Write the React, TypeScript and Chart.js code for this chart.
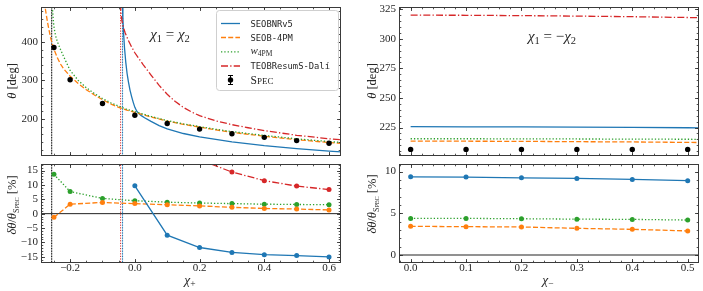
import React, { useEffect, useRef } from "react";
import { Chart, registerables } from "chart.js";
Chart.register(...registerables);

const BLUE = "#1f77b4";
const ORANGE = "#ff7f0e";
const GREEN = "#2ca02c";
const RED = "#d62728";
const INK = "#262626";
const SERIF = '"Liberation Serif", "DejaVu Serif", serif';
const MONO = '"DejaVu Sans Mono", monospace';

// ---------- chi1 = chi2 (chi_+) : theta curves ----------
const seobnrPlusX = [-0.0385, -0.037, -0.035, -0.032, -0.028, -0.024, -0.02, -0.015, -0.01, -0.005, 0.0, 0.006, 0.013, 0.02, 0.03, 0.05, 0.075, 0.1, 0.15, 0.2, 0.3, 0.4, 0.5, 0.6, 0.64];
const seobnrPlusTheta = [500, 462, 425, 385, 347, 318, 297, 275, 258, 243, 230, 220, 213, 208.5, 203, 193.5, 182.5, 174, 162, 153, 140, 130.3, 122.6, 116, 114];

const seob4pmPlusX = [-0.28, -0.275, -0.27, -0.265, -0.26, -0.255, -0.25, -0.24, -0.23, -0.22, -0.2, -0.175, -0.15, -0.125, -0.1, -0.075, -0.05, -0.025, 0, 0.05, 0.1, 0.15, 0.2, 0.25, 0.3, 0.4, 0.5, 0.6, 0.64];
const seob4pmPlusTheta = [505, 478, 452, 430, 410, 395, 381, 360, 343, 330, 311, 292, 276, 262, 250, 239, 230, 223, 217, 205, 194, 186, 178.5, 171.5, 165, 155, 146, 138.6, 136];

const w4pmPlusX = [-0.2555, -0.254, -0.252, -0.25, -0.247, -0.243, -0.238, -0.23, -0.22, -0.21, -0.2, -0.175, -0.15, -0.125, -0.1, -0.075, -0.05, -0.025, 0, 0.05, 0.1, 0.15, 0.2, 0.25, 0.3, 0.4, 0.5, 0.6, 0.64];
const w4pmPlusTheta = [500, 478, 458, 440, 425, 410, 398, 381, 362, 344, 326, 300, 281, 266, 253, 242, 233, 225, 219, 206.5, 195.5, 187, 180, 173, 167, 157, 148.2, 141, 138.5];

const teobPlusX = [-0.0445, -0.043, -0.04, -0.036, -0.03, -0.02, -0.01, 0, 0.025, 0.05, 0.075, 0.1, 0.125, 0.15, 0.175, 0.2, 0.25, 0.3, 0.35, 0.4, 0.5, 0.6, 0.64];
const teobPlusTheta = [500, 475, 455, 440, 424, 404, 387, 372, 342, 314, 287, 264, 245, 230, 218, 208.5, 195, 185, 177, 169.5, 157.4, 148.3, 145.5];

const chiPlus = [-0.25, -0.2, -0.1, 0, 0.1, 0.2, 0.3, 0.4, 0.5, 0.6];
const specThetaPlus = [385.5, 301.7, 240, 209.4, 188, 173.5, 161.5, 152, 143.6, 136.8];

// vertical markers (black, red, blue)
const poleChi = [-0.257, -0.044, -0.038];

// ---------- chi1 = chi2 : relative errors [%] ----------
const w4pmErrPlus = [13.7, 7.7, 5.3, 4.5, 4.0, 3.7, 3.5, 3.3, 3.2, 3.1];
const seob4pmErrPlus = [-1.3, 3.3, 3.9, 3.5, 3.1, 2.7, 2.2, 1.8, 1.6, 1.3];
const seobnrErrChi = [0, 0.1, 0.2, 0.3, 0.4, 0.5, 0.6];
const seobnrErrPlus = [9.7, -7.5, -11.8, -13.5, -14.3, -14.6, -15.1];
const teobErrChi = [0.2, 0.3, 0.4, 0.5, 0.6];
const teobErrPlus = [18.8, 14.5, 11.5, 9.6, 8.4];

// ---------- chi1 = -chi2 (chi_-) ----------
const curveChiMinus = [0, 0.1, 0.2, 0.3, 0.4, 0.5, 0.55];
const seobnrThetaMinus = [225.7, 225.6, 225.5, 225.3, 225.1, 224.8, 224.6];
const seob4pmThetaMinus = [213.5, 213.4, 213.3, 213.0, 212.8, 212.4, 212.2];
const w4pmThetaMinus = [215.5, 215.5, 215.4, 215.3, 215.2, 215.05, 215.0];
const teobThetaMinus = [320, 319.9, 319.6, 319.2, 318.7, 318.0, 317.5];

const chiMinus = [0, 0.1, 0.2, 0.3, 0.4, 0.5];
const specThetaMinus = [206.5, 206.5, 206.5, 206.5, 206.5, 206.5];
const seobnrErrMinus = [9.37, 9.33, 9.25, 9.17, 9.05, 8.9];
const w4pmErrMinus = [4.39, 4.39, 4.35, 4.3, 4.27, 4.19];
const seob4pmErrMinus = [3.44, 3.4, 3.36, 3.2, 3.08, 2.89];

// ---------- ticks ----------
const plusXTicks = [-0.2, 0, 0.2, 0.4, 0.6];
const plusThetaTicks = [200, 300, 400];
const plusErrTicks = [-15, -10, -5, 0, 5, 10, 15];
const minusXTicks = [0, 0.1, 0.2, 0.3, 0.4, 0.5];
const minusThetaTicks = [225, 250, 275, 300, 325];
const minusErrTicks = [0, 5, 10];

function steps(a: number, b: number, st: number): number[] {
  const out: number[] = [];
  const n = Math.round((b - a) / st);
  for (let i = 0; i <= n; i++) out.push(+(a + i * st).toFixed(6));
  return out;
}

const DASHED = [5, 2.2];
const DOTTED = [1.3, 2];
const DASHDOT = [7, 2.2, 1.3, 2.2];

const pts = (xs: number[], ys: number[]) => xs.map((x, i) => ({ x, y: ys[i] }));

function curve(xs: number[], ys: number[], color: string, dash: number[], order: number, width = 1.3): any {
  return {
    data: pts(xs, ys), borderColor: color, backgroundColor: color, borderWidth: width,
    borderDash: dash, borderCapStyle: "butt", pointRadius: 0, tension: 0, fill: false, order,
  };
}
function marked(xs: number[], ys: number[], color: string, dash: number[], order: number): any {
  return { ...curve(xs, ys, color, dash, order), pointRadius: 2.5, pointBackgroundColor: color, pointBorderColor: color, pointBorderWidth: 0 };
}
function dots(xs: number[], ys: number[], color: string, order: number): any {
  return { data: pts(xs, ys), showLine: false, pointRadius: 2.7, pointBackgroundColor: color, pointBorderColor: color, pointBorderWidth: 0, order };
}
function vline(x: number, color: string, dash: number[], width = 1): any {
  return { data: [{ x, y: -1000 }, { x, y: 1000 }], borderColor: color, borderWidth: width, borderDash: dash, pointRadius: 0, order: 20 };
}
function hline(y: number, color: string, width: number): any {
  return { data: [{ x: -5, y }, { x: 5, y }], borderColor: color, borderWidth: width, pointRadius: 0, order: 21 };
}
function poleLines(): any[] {
  return [
    vline(poleChi[0], "rgba(0,0,0,0.35)", []),
    vline(poleChi[0], "#111", [1.2, 1.4]),
    vline(poleChi[1], RED, [1.2, 1.4]),
    vline(poleChi[2], "rgba(31,119,180,0.35)", []),
    vline(poleChi[2], BLUE, [1.2, 1.4]),
  ];
}

type Seg = { t: string; f: string; dy?: number };
function drawRich(ctx: CanvasRenderingContext2D, segs: Seg[], px: number, py: number, rot = 0, align = "center") {
  ctx.save();
  ctx.translate(px, py);
  if (rot) ctx.rotate(rot);
  let w = 0;
  for (const s of segs) { ctx.font = s.f; w += ctx.measureText(s.t).width; }
  let x = align === "center" ? -w / 2 : 0;
  ctx.fillStyle = INK;
  ctx.textBaseline = "alphabetic";
  ctx.textAlign = "left";
  for (const s of segs) { ctx.font = s.f; ctx.fillText(s.t, x, s.dy || 0); x += ctx.measureText(s.t).width; }
  ctx.restore();
}
const it = (n: number) => `italic ${n}px ${SERIF}`;
const rm = (n: number) => `${n}px ${SERIF}`;

const thetaTitle: Seg[] = [{ t: "θ", f: it(12.5) }, { t: " [deg]", f: rm(12.5) }];
const errTitle: Seg[] = [
  { t: "δθ", f: it(12.5) }, { t: "/", f: rm(12.5) }, { t: "θ", f: it(12.5) },
  { t: "S", f: rm(8), dy: 3 }, { t: "PEC", f: rm(6.2), dy: 3 }, { t: " [%]", f: rm(12.5) },
];

type PanelSpec = {
  left: number; top: number; width: number; height: number;
  yAxisWidth: number; padRight: number; padTop: number; xAxisHeight: number;
  xMin: number; xMax: number; yMin: number; yMax: number;
  xMajor: number[]; xMinor: number[]; yMajor: number[]; yMinor: number[];
  xDec: number; showXLabels: boolean;
  datasets: any[];
  draw: (ctx: CanvasRenderingContext2D) => void;
};

const fmt = (dec: number) => (v: number) => (v < 0 ? "\u2212" : "") + Math.abs(v).toFixed(dec);

function buildConfig(s: PanelSpec): any {
  const deco = {
    id: "deco",
    afterDraw(chart: any) {
      const ctx: CanvasRenderingContext2D = chart.ctx;
      const a = chart.chartArea;
      const xs = chart.scales.x;
      const ys = chart.scales.y;
      const L = Math.round(a.left) + 0.5, R = Math.round(a.right) - 0.5;
      const T = Math.round(a.top) + 0.5, B = Math.round(a.bottom) - 0.5;
      ctx.save();
      ctx.strokeStyle = INK;
      ctx.lineWidth = 0.8;
      ctx.setLineDash([]);
      const tick = (vals: number[], len: number, horiz: boolean) => {
        for (const v of vals) {
          if (horiz) {
            const p = Math.round(xs.getPixelForValue(v)) + 0.5;
            if (p <= L || p >= R) continue;
            ctx.beginPath(); ctx.moveTo(p, B); ctx.lineTo(p, B - len); ctx.moveTo(p, T); ctx.lineTo(p, T + len); ctx.stroke();
          } else {
            const p = Math.round(ys.getPixelForValue(v)) + 0.5;
            if (p <= T || p >= B) continue;
            ctx.beginPath(); ctx.moveTo(L, p); ctx.lineTo(L + len, p); ctx.moveTo(R, p); ctx.lineTo(R - len, p); ctx.stroke();
          }
        }
      };
      tick(s.xMajor, 3.5, true);
      tick(s.xMinor, 1.8, true);
      tick(s.yMajor, 3.5, false);
      tick(s.yMinor, 1.8, false);
      ctx.lineWidth = 1;
      ctx.strokeStyle = "#3a3a3a";
      ctx.strokeRect(L, T, R - L, B - T);
      ctx.restore();
      ctx.save();
      s.draw(ctx);
      ctx.restore();
    },
  };
  const tickFont = { family: SERIF, size: 11 };
  return {
    type: "line",
    data: { datasets: s.datasets },
    options: {
      animation: false, responsive: false, maintainAspectRatio: false, devicePixelRatio: 1, events: [],
      layout: { padding: { left: 0, right: s.padRight, top: s.padTop, bottom: 0 } },
      plugins: { legend: { display: false }, tooltip: { enabled: false } },
      scales: {
        x: {
          type: "linear", min: s.xMin, max: s.xMax, position: "bottom",
          grid: { display: false, drawTicks: false }, border: { display: false },
          ticks: { display: s.showXLabels, padding: -1, autoSkip: false, maxRotation: 0, font: tickFont, color: INK, callback: fmt(s.xDec) },
          afterBuildTicks: (sc: any) => { sc.ticks = s.xMajor.map((v) => ({ value: v })); },
          afterFit: (sc: any) => { sc.height = s.xAxisHeight; },
        },
        y: {
          type: "linear", min: s.yMin, max: s.yMax, position: "left",
          grid: { display: false, drawTicks: true, tickLength: 10 }, border: { display: false },
          ticks: { padding: -7, autoSkip: false, font: tickFont, color: INK, callback: fmt(0) },
          afterBuildTicks: (sc: any) => { sc.ticks = s.yMajor.map((v) => ({ value: v })); },
          afterFit: (sc: any) => { sc.width = s.yAxisWidth; },
        },
      },
    },
    plugins: [deco],
  };
}

function drawLegend(ctx: CanvasRenderingContext2D) {
  ctx.save();
  const x0 = 216.5, y0 = 10.5, w = 122, h = 80, r = 3;
  ctx.beginPath();
  ctx.moveTo(x0 + r, y0); ctx.lineTo(x0 + w - r, y0); ctx.arcTo(x0 + w, y0, x0 + w, y0 + r, r);
  ctx.lineTo(x0 + w, y0 + h - r); ctx.arcTo(x0 + w, y0 + h, x0 + w - r, y0 + h, r);
  ctx.lineTo(x0 + r, y0 + h); ctx.arcTo(x0, y0 + h, x0, y0 + h - r, r);
  ctx.lineTo(x0, y0 + r); ctx.arcTo(x0, y0, x0 + r, y0, r);
  ctx.closePath();
  ctx.fillStyle = "rgba(255,255,255,0.85)";
  ctx.fill();
  ctx.strokeStyle = "#cfcfcf";
  ctx.lineWidth = 1;
  ctx.stroke();
  const rows = [23.5, 37.5, 51.8, 66, 80];
  const lines: [string, number[]][] = [[BLUE, []], [ORANGE, DASHED], [GREEN, DOTTED], [RED, DASHDOT]];
  lines.forEach(([c, d], i) => {
    ctx.beginPath(); ctx.setLineDash(d); ctx.strokeStyle = c; ctx.lineWidth = 1.3;
    ctx.moveTo(221, rows[i]); ctx.lineTo(240, rows[i]); ctx.stroke();
  });
  ctx.setLineDash([]);
  // SpEC marker with error bar
  ctx.strokeStyle = "#000"; ctx.lineWidth = 1;
  ctx.beginPath();
  ctx.moveTo(230.5, 75.5); ctx.lineTo(230.5, 84.5);
  ctx.moveTo(228, 75.5); ctx.lineTo(233, 75.5);
  ctx.moveTo(228, 84.5); ctx.lineTo(233, 84.5);
  ctx.stroke();
  ctx.fillStyle = "#000";
  ctx.beginPath(); ctx.arc(230.5, 80, 2.7, 0, Math.PI * 2); ctx.fill();
  ctx.restore();
  const mono = `8.8px ${MONO}`;
  const tx = 250.5;
  drawRich(ctx, [{ t: "SEOBNRv5", f: mono }], tx, rows[0] + 3.2, 0, "left");
  drawRich(ctx, [{ t: "SEOB-4PM", f: mono }], tx, rows[1] + 3.2, 0, "left");
  drawRich(ctx, [{ t: "w", f: it(11) }, { t: "4PM", f: rm(7.5), dy: 2 }], tx, rows[2] + 2.5, 0, "left");
  drawRich(ctx, [{ t: "TEOBResumS-Dalí", f: mono }], tx, rows[3] + 3.2, 0, "left");
  drawRich(ctx, [{ t: "S", f: rm(11.5) }, { t: "PEC", f: rm(9) }], tx, rows[4] + 4, 0, "left");
}

const panels: PanelSpec[] = [
  {
    left: 0, top: 0, width: 360, height: 160, yAxisWidth: 41, padRight: 19, padTop: 7, xAxisHeight: 1,
    xMin: -0.29, xMax: 0.637, yMin: 103.5, yMax: 491,
    xMajor: plusXTicks, xMinor: steps(-0.25, 0.6, 0.05), yMajor: plusThetaTicks, yMinor: steps(120, 480, 20),
    xDec: 1, showXLabels: false,
    datasets: [
      dots(chiPlus, specThetaPlus, "#000", 0),
      curve(teobPlusX, teobPlusTheta, RED, DASHDOT, 1),
      curve(w4pmPlusX, w4pmPlusTheta, GREEN, DOTTED, 2),
      curve(seob4pmPlusX, seob4pmPlusTheta, ORANGE, DASHED, 3),
      curve(seobnrPlusX, seobnrPlusTheta, BLUE, [], 4),
      ...poleLines(),
    ],
    draw: (ctx) => {
      drawRich(ctx, thetaTitle, 16, 81, -Math.PI / 2);
      drawRich(ctx, [{ t: "χ", f: it(15) }, { t: "1", f: rm(10.5), dy: 3 }, { t: " = ", f: rm(15) }, { t: "χ", f: it(15) }, { t: "2", f: rm(10.5), dy: 3 }], 170, 39);
      drawLegend(ctx);
    },
  },
  {
    left: 0, top: 160, width: 360, height: 131, yAxisWidth: 41, padRight: 19, padTop: 2, xAxisHeight: 28,
    xMin: -0.29, xMax: 0.637, yMin: -17.2, yMax: 17.3,
    xMajor: plusXTicks, xMinor: steps(-0.25, 0.6, 0.05), yMajor: plusErrTicks, yMinor: steps(-17, 17, 1),
    xDec: 1, showXLabels: true,
    datasets: [
      marked(chiPlus, w4pmErrPlus, GREEN, DOTTED, 3),
      marked(chiPlus, seob4pmErrPlus, ORANGE, DASHED, 2),
      marked(seobnrErrChi, seobnrErrPlus, BLUE, [], 1),
      marked(teobErrChi, teobErrPlus, RED, DASHDOT, 0),
      hline(0, "#222", 1),
      ...poleLines(),
    ],
    draw: (ctx) => {
      drawRich(ctx, errTitle, 16, 45, -Math.PI / 2);
      drawRich(ctx, [{ t: "χ", f: it(13.5) }, { t: "+", f: rm(9.5), dy: 2.5 }], 190, 124);
    },
  },
  {
    left: 360, top: 0, width: 343, height: 160, yAxisWidth: 39, padRight: 3, padTop: 7, xAxisHeight: 1,
    xMin: -0.021, xMax: 0.5204, yMin: 200.9, yMax: 326.9,
    xMajor: minusXTicks, xMinor: steps(-0.02, 0.52, 0.02), yMajor: minusThetaTicks, yMinor: steps(205, 325, 5),
    xDec: 1, showXLabels: false,
    datasets: [
      dots(chiMinus, specThetaMinus, "#000", 0),
      curve(curveChiMinus, teobThetaMinus, RED, DASHDOT, 1),
      curve(curveChiMinus, w4pmThetaMinus, GREEN, DOTTED, 2),
      curve(curveChiMinus, seob4pmThetaMinus, ORANGE, DASHED, 3),
      curve(curveChiMinus, seobnrThetaMinus, BLUE, [], 4),
    ],
    draw: (ctx) => {
      drawRich(ctx, thetaTitle, 16, 81, -Math.PI / 2);
      drawRich(ctx, [{ t: "χ", f: it(15) }, { t: "1", f: rm(10.5), dy: 3 }, { t: " = \u2212", f: rm(15) }, { t: "χ", f: it(15) }, { t: "2", f: rm(10.5), dy: 3 }], 192, 40.5);
    },
  },
  {
    left: 360, top: 160, width: 343, height: 131, yAxisWidth: 39, padRight: 3, padTop: 2, xAxisHeight: 28,
    xMin: -0.021, xMax: 0.5204, yMin: -0.95, yMax: 10.9,
    xMajor: minusXTicks, xMinor: steps(-0.02, 0.52, 0.02), yMajor: minusErrTicks, yMinor: steps(0, 10, 1),
    xDec: 1, showXLabels: true,
    datasets: [
      marked(chiMinus, w4pmErrMinus, GREEN, DOTTED, 2),
      marked(chiMinus, seob4pmErrMinus, ORANGE, DASHED, 1),
      marked(chiMinus, seobnrErrMinus, BLUE, [], 0),
      hline(0, "rgba(60,60,60,0.75)", 1.4),
    ],
    draw: (ctx) => {
      drawRich(ctx, errTitle, 16, 44, -Math.PI / 2);
      drawRich(ctx, [{ t: "χ", f: it(13.5) }, { t: "\u2212", f: rm(9.5), dy: 2.5 }], 188, 124);
    },
  },
];

function Panel({ spec }: { spec: PanelSpec }) {
  const ref = useRef<HTMLCanvasElement>(null);
  useEffect(() => {
    const chart = new Chart(ref.current as HTMLCanvasElement, buildConfig(spec));
    return () => chart.destroy();
  }, [spec]);
  return (
    <canvas
      ref={ref}
      width={spec.width}
      height={spec.height}
      style={{ position: "absolute", left: spec.left, top: spec.top, width: spec.width, height: spec.height }}
    />
  );
}

export default function App() {
  return (
    <div style={{ position: "fixed", left: 0, top: 0, width: 703, height: 291, background: "#fff", overflow: "hidden" }}>
      {panels.map((p, i) => (
        <Panel key={i} spec={p} />
      ))}
    </div>
  );
}
